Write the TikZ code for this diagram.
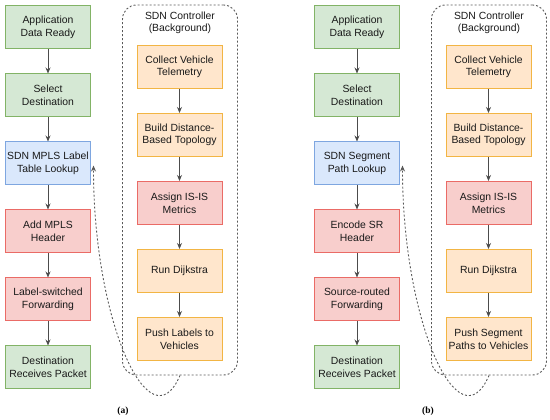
\documentclass[tikz,border=0pt]{standalone}
\usepackage{fontspec}
\setmainfont{Liberation Sans}
\newfontfamily\capfont{Liberation Serif}
\usetikzlibrary{arrows.meta, positioning, fit, calc}
\definecolor{greenfill}{HTML}{D5E8D4}
\definecolor{greenline}{HTML}{82B366}
\definecolor{bluefill}{HTML}{DAE8FC}
\definecolor{blueline}{HTML}{7EA6E0}
\definecolor{redfill}{HTML}{F8CECC}
\definecolor{redline}{HTML}{EA6B66}
\definecolor{orangefill}{HTML}{FFE6CC}
\definecolor{orangeline}{HTML}{F2B544}

\begin{document}
\begin{tikzpicture}[
    node distance=24bp,
    stepbox/.style={
        draw,
        line width=1bp,
        align=center,
        minimum width=85bp,
        minimum height=43bp,
        inner sep=1bp,
        text=black!90,
        font=\fontsize{10.4bp}{12.6bp}\selectfont
    },
    greenbox/.style={stepbox, fill=greenfill, draw=greenline},
    bluebox/.style={stepbox, fill=bluefill, draw=blueline},
    redbox/.style={stepbox, fill=redfill, draw=redline},
    orangebox/.style={stepbox, fill=orangefill, draw=orangeline},
    ctrlbox/.style={draw=black!65, line width=0.9bp, dash pattern=on 2bp off 2bp,
        rounded corners=14bp, inner sep=0pt},
    ctrltitle/.style={align=center, inner sep=0pt, text=black!90,
        font=\fontsize{10.4bp}{12.6bp}\selectfont},
    arrow/.style={-{Stealth[length=6bp,width=5bp]}, line width=0.9bp, draw=black!70},
    feedback/.style={-{Stealth[length=6bp,width=5bp]}, line width=0.9bp, draw=black!65,
        dash pattern=on 2bp off 2bp},
    caption/.style={font=\capfont\bfseries\fontsize{9.5bp}{11bp}\selectfont}
]

\useasboundingbox (0,0) rectangle (550bp,420bp);

% --- (a) MPLS ---
\begin{scope}
% forwarding path
\node[greenbox] (ready-a) at (48bp,392.5bp) {Application\\Data Ready};
\node[greenbox] (select-a) [below=of ready-a] {Select\\Destination};
\node[bluebox] (lookup-a) [below=of select-a] {SDN MPLS Label\\Table Lookup};
\node[redbox] (header-a) [below=of lookup-a] {Add MPLS\\Header};
\node[redbox] (fwd-a) [below=of header-a] {Label-switched\\Forwarding};
\node[greenbox] (recv-a) [below=of fwd-a] {Destination\\Receives Packet};

% controller
\node[orangebox] (telemetry-a) at (179.5bp,353bp) {Collect Vehicle\\Telemetry};
\node[orangebox] (topology-a) [below=of telemetry-a] {Build Distance-\\Based Topology};
\node[redbox] (metrics-a) [below=of topology-a] {Assign IS-IS\\Metrics};
\node[orangebox] (dijkstra-a) [below=of metrics-a] {Run Dijkstra};
\node[orangebox] (push-a) [below=of dijkstra-a] {Push Labels to\\Vehicles};

\coordinate (ctrlnw-a) at ($(telemetry-a.north west)+(-14bp,40bp)$);
\coordinate (ctrlse-a) at ($(push-a.south east)+(15bp,-14bp)$);
\node[ctrlbox, fit=(ctrlnw-a)(ctrlse-a)] (ctrl-a) {};
\node[ctrltitle, below=7bp of ctrl-a.north] (title-a) {SDN Controller\\(Background)};

% arrows
\draw[arrow] (ready-a) -- (select-a);
\draw[arrow] (select-a) -- (lookup-a);
\draw[arrow] (lookup-a) -- (header-a);
\draw[arrow] (header-a) -- (fwd-a);
\draw[arrow] (fwd-a) -- (recv-a);
\draw[arrow] (telemetry-a) -- (topology-a);
\draw[arrow] (topology-a) -- (metrics-a);
\draw[arrow] (metrics-a) -- (dijkstra-a);
\draw[arrow] (dijkstra-a) -- (push-a);

\coordinate (lookupin-a) at ($(lookup-a.east)+(2.5bp,-2bp)$);
\draw[feedback] (ctrl-a.south) .. controls +(-30bp,-70bp) and +(0,-157bp) .. (lookupin-a);

\node[caption] (cap-a) at (123bp,9bp) {(a)};
\end{scope}

% --- (b) Segment routing ---
\begin{scope}[xshift=309bp]
% forwarding path
\node[greenbox] (ready-b) at (48bp,392.5bp) {Application\\Data Ready};
\node[greenbox] (select-b) [below=of ready-b] {Select\\Destination};
\node[bluebox] (lookup-b) [below=of select-b] {SDN Segment\\Path Lookup};
\node[redbox] (header-b) [below=of lookup-b] {Encode SR\\Header};
\node[redbox] (fwd-b) [below=of header-b] {Source-routed\\Forwarding};
\node[greenbox] (recv-b) [below=of fwd-b] {Destination\\Receives Packet};

% controller
\node[orangebox] (telemetry-b) at (179.5bp,353bp) {Collect Vehicle\\Telemetry};
\node[orangebox] (topology-b) [below=of telemetry-b] {Build Distance-\\Based Topology};
\node[redbox] (metrics-b) [below=of topology-b] {Assign IS-IS\\Metrics};
\node[orangebox] (dijkstra-b) [below=of metrics-b] {Run Dijkstra};
\node[orangebox] (push-b) [below=of dijkstra-b] {Push Segment\\Paths to Vehicles};

\coordinate (ctrlnw-b) at ($(telemetry-b.north west)+(-14bp,40bp)$);
\coordinate (ctrlse-b) at ($(push-b.south east)+(15bp,-14bp)$);
\node[ctrlbox, fit=(ctrlnw-b)(ctrlse-b)] (ctrl-b) {};
\node[ctrltitle, below=7bp of ctrl-b.north] (title-b) {SDN Controller\\(Background)};

% arrows
\draw[arrow] (ready-b) -- (select-b);
\draw[arrow] (select-b) -- (lookup-b);
\draw[arrow] (lookup-b) -- (header-b);
\draw[arrow] (header-b) -- (fwd-b);
\draw[arrow] (fwd-b) -- (recv-b);
\draw[arrow] (telemetry-b) -- (topology-b);
\draw[arrow] (topology-b) -- (metrics-b);
\draw[arrow] (metrics-b) -- (dijkstra-b);
\draw[arrow] (dijkstra-b) -- (push-b);

\coordinate (lookupin-b) at ($(lookup-b.east)+(2.5bp,-2bp)$);
\draw[feedback] (ctrl-b.south) .. controls +(-30bp,-70bp) and +(0,-157bp) .. (lookupin-b);

\node[caption] (cap-b) at (119bp,9bp) {(b)};
\end{scope}

\end{tikzpicture}
\end{document}
